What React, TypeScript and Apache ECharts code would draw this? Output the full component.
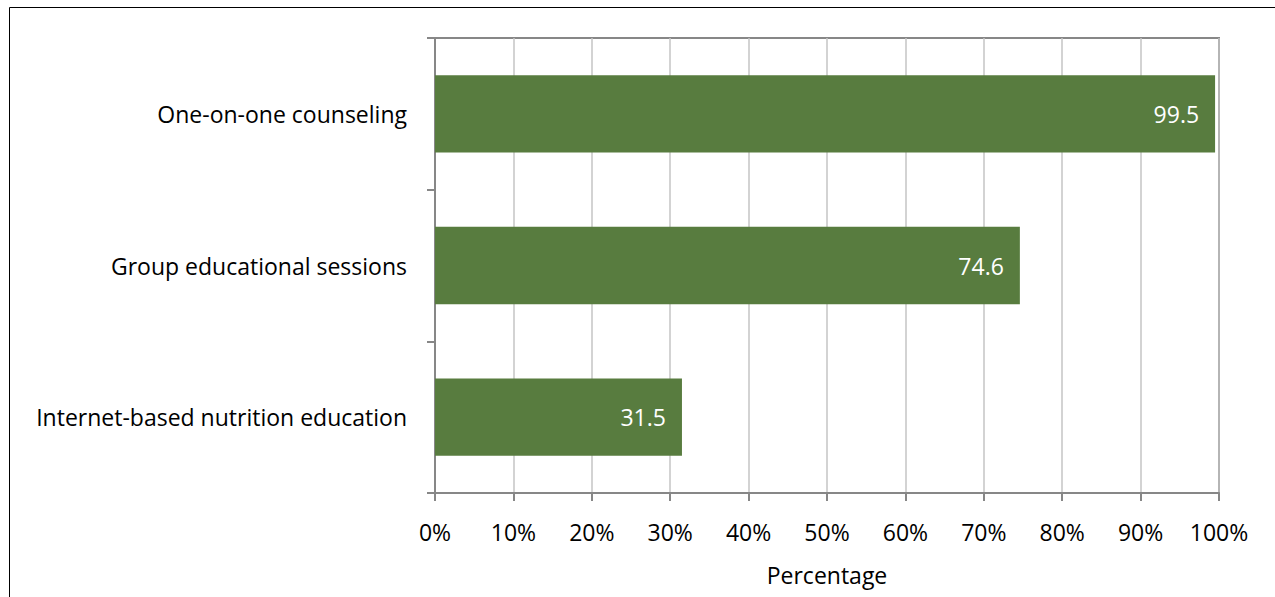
import React, { useEffect, useRef } from "react";
import * as echarts from "echarts";

const categories = ["One-on-one counseling", "Group educational sessions", "Internet-based nutrition education"];
const values = [99.5, 74.6, 31.5];
const xTicks = [0, 10, 20, 30, 40, 50, 60, 70, 80, 90, 100];
const axisName = "Percentage";

const FONT = "'Open Sans', sans-serif";
const FS = 23;

export default function App() {
  const ref = useRef<HTMLDivElement>(null);
  useEffect(() => {
    if (!ref.current) return;
    const chart = echarts.init(ref.current, null, { renderer: "svg" });
    chart.setOption({
      animation: false,
      backgroundColor: "#ffffff",
      graphic: [
        {
          type: "rect",
          shape: { x: 9.5, y: 7.5, width: 1400, height: 800 },
          style: { fill: "none", stroke: "#000000", lineWidth: 1 },
          silent: true,
        },
      ],
      grid: {
        left: 435,
        right: 56,
        top: 38,
        bottom: 104,
        show: true,
        borderColor: "#878787",
        borderWidth: 2,
        containLabel: false,
      },
      xAxis: {
        type: "value",
        min: xTicks[0],
        max: xTicks[xTicks.length - 1],
        interval: 10,
        name: axisName,
        nameLocation: "middle",
        nameGap: 70,
        nameTextStyle: { fontFamily: FONT, fontSize: FS, color: "#000" },
        axisLine: { show: true, lineStyle: { color: "#878787", width: 2 } },
        axisTick: { show: true, length: 8, lineStyle: { color: "#878787", width: 2 } },
        axisLabel: {
          formatter: (v: number) => v + "%",
          fontFamily: FONT,
          fontSize: FS,
          color: "#000",
          margin: 27,
        },
        splitLine: { show: true, lineStyle: { color: "#c4c4c4", width: 1.5 } },
      },
      yAxis: {
        type: "category",
        data: categories,
        inverse: true,
        axisLine: { show: true, lineStyle: { color: "#878787", width: 2 } },
        axisTick: { show: true, length: 8, lineStyle: { color: "#878787", width: 2 } },
        axisLabel: {
          fontFamily: FONT,
          fontSize: FS,
          color: "#000",
          margin: 28,
        },
        splitLine: { show: false },
      },
      series: [
        {
          type: "bar",
          data: values,
          barCategoryGap: "49%",
          itemStyle: { color: "#587c3f" },
          label: {
            show: true,
            position: "insideRight",
            distance: 16,
            color: "#ffffff",
            fontFamily: FONT,
            fontSize: FS,
            formatter: (p: any) => p.value.toFixed(1),
          },
        },
      ],
    });
    return () => chart.dispose();
  }, []);
  return (
    <div style={{ position: "fixed", left: 0, top: 0, width: 1275, height: 597, overflow: "hidden" }}>
      <div ref={ref} style={{ width: 1275, height: 597 }} />
    </div>
  );
}
